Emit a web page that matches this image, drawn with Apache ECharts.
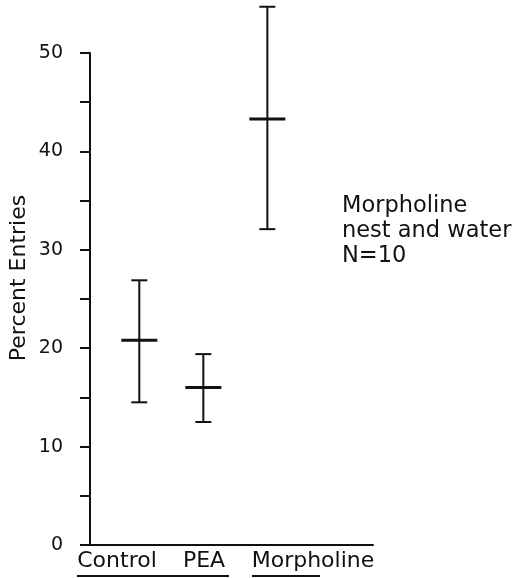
<!DOCTYPE html>
<html>
<head>
<meta charset="UTF-8">
<title>Percent Entries</title>
<script src="https://cdn.jsdelivr.net/npm/echarts@6/dist/echarts.min.js"></script>
<style>
    body { margin: 0; background: #fff; }
    #chart { width: 515px; height: 578px; }
</style>
</head>
<body>
<div id="chart"></div>
<script>
// groups and their mean with error range (percent entries)
const groups = ['Control', 'PEA', 'Morpholine'];
const means = [20.8, 16.0, 43.3];
const lows = [14.5, 12.5, 32.1];
const highs = [26.9, 19.4, 54.7];
const yTicks = [0, 10, 20, 30, 40, 50];
const note = ['Morpholine', 'nest and water', 'N=10'];

const font = '"DejaVu Sans", sans-serif';
const ink = '#111';

const seriesData = groups.map((g, i) => [i + 1, means[i], lows[i], highs[i]]);

function renderBar(params, api) {
    const x = api.value(0);
    const m = api.coord([x, api.value(1)]);
    const lo = api.coord([x, api.value(2)]);
    const hi = api.coord([x, api.value(3)]);
    const cap = 8, half = 18;
    const st = { stroke: ink, lineWidth: 2 };
    return {
        type: 'group',
        children: [
            { type: 'line', shape: { x1: m[0], y1: lo[1], x2: m[0], y2: hi[1] }, style: st },
            { type: 'line', shape: { x1: m[0] - cap, y1: lo[1], x2: m[0] + cap, y2: lo[1] }, style: st },
            { type: 'line', shape: { x1: m[0] - cap, y1: hi[1], x2: m[0] + cap, y2: hi[1] }, style: st },
            { type: 'line', shape: { x1: m[0] - half, y1: m[1], x2: m[0] + half, y2: m[1] }, style: { stroke: ink, lineWidth: 3 } }
        ]
    };
}

const chart = echarts.init(document.getElementById('chart'));

// category labels sit under the axis, not evenly spaced in the original
const labelX = [117, 204, 313];
const graphics = groups.map((g, i) => ({
    type: 'text',
    x: labelX[i],
    y: 561,
    style: { text: g, font: '22px ' + font, fill: ink, align: 'center', verticalAlign: 'middle' }
}));
graphics.push(
    { type: 'line', shape: { x1: 77, y1: 576, x2: 229, y2: 576 }, style: { stroke: ink, lineWidth: 2 } },
    { type: 'line', shape: { x1: 252, y1: 576, x2: 320, y2: 576 }, style: { stroke: ink, lineWidth: 2 } },
    {
        type: 'text', x: 19, y: 278, rotation: Math.PI / 2,
        style: { text: 'Percent Entries', font: '22px ' + font, fill: ink, align: 'center', verticalAlign: 'middle' }
    },
    {
        type: 'text', x: 342, y: 231,
        style: { text: note.join('\n'), font: '22.5px ' + font, lineHeight: 25, fill: ink, align: 'left', verticalAlign: 'middle' }
    }
);

chart.setOption({
    animation: false,
    grid: { left: 90, right: 142, top: 53, bottom: 33 },
    xAxis: {
        type: 'value', min: 0.23, max: 4.65,
        axisLine: { show: true, lineStyle: { color: ink, width: 2 } },
        axisTick: { show: false },
        axisLabel: { show: false },
        splitLine: { show: false }
    },
    yAxis: {
        type: 'value', min: 0, max: 50, interval: 5,
        axisLine: { show: true, lineStyle: { color: ink, width: 2 } },
        axisTick: { show: true, inside: false, length: 10, lineStyle: { color: ink, width: 2 } },
        axisLabel: {
            margin: 27, fontSize: 19, fontFamily: font, color: ink,
            formatter: v => yTicks.includes(v) ? String(v) : ''
        },
        splitLine: { show: false }
    },
    series: [{
        type: 'custom',
        clip: false,
        renderItem: renderBar,
        data: seriesData
    }],
    graphic: graphics
});
</script>
</body>
</html>
